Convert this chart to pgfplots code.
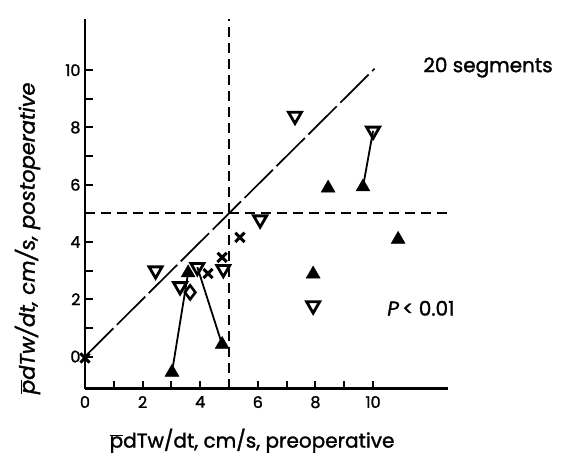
\documentclass[border=0pt]{standalone}
\usepackage{pgfplots}
\pgfplotsset{compat=1.18}
\usepackage{fontspec}
\setmainfont{Poppins}[FakeBold=1.5]
\newcommand{\pb}{\ensuremath{\overline{\mbox{p}}}}
\newcommand{\pbi}{\ensuremath{\overline{\mbox{\itshape p}}}}
\begin{document}
\begin{tikzpicture}
\begin{axis}[
  scale only axis, width=363pt, height=370pt,
  xmin=0, xmax=12.6, ymin=-1.12, ymax=11.8,
  axis lines=left, axis line style={line width=2.5pt, -},
  clip=false,
  xtick={0,2,...,10}, minor xtick={1,3,...,9},
  ytick={0,2,...,10}, minor ytick={1,3,...,9},
  tick style={line width=2pt, black},
  major tick length=8pt, minor tick length=8pt,
  tick align=inside,
  /pgf/number format/assume math mode=true,
  tick label style={font=\fontsize{16}{16}\selectfont},
  xticklabel style={yshift=-4pt},
  yticklabel style={xshift=-1pt},
]
% reference lines
\addplot[black, line width=1.7pt, dash pattern=on 40pt off 5pt] coordinates {(0,0) (10.05,10.05)};
\addplot[black, line width=2.2pt, dash pattern=on 10pt off 6pt] coordinates {(5,-1.12) (5,11.8)};
\addplot[black, line width=2.2pt, dash pattern=on 10pt off 6pt] coordinates {(0,5) (12.6,5)};
% connecting lines
\addplot[black, line width=1.8pt] coordinates {(3.02,-0.55) (3.58,2.92)};
\addplot[black, line width=1.8pt] coordinates {(3.9,3.12) (4.76,0.42)};
\addplot[black, line width=1.8pt] coordinates {(9.65,5.92) (10.0,7.88)};
% filled up-triangles
\addplot[only marks, mark=triangle*, mark size=8pt, mark options={fill=black, draw=black, line width=0.5pt}] coordinates {
(3.02,-0.55) (3.58,2.92) (4.76,0.42) (8.44,5.88) (9.65,5.92) (10.87,4.09) (7.92,2.88)
};
% open down-triangles
\addplot[only marks, mark=triangle, mark size=7.5pt, mark options={rotate=180, draw=black, fill=white, line width=2.8pt}] coordinates {
(2.45,3.0) (3.3,2.45) (3.9,3.12) (4.8,3.05) (6.08,4.78) (7.29,8.4) (10.0,7.88) (7.92,1.78)
};
% crosses
\addplot[only marks, mark=x, mark size=6.5pt, mark options={draw=black, line width=3pt}] coordinates {
(0,-0.05) (4.27,2.9) (4.76,3.46) (5.38,4.16)
};
% diamond
\addplot[only marks, mark=diamond, mark size=7pt, mark options={draw=black, fill=white, line width=2.6pt}] coordinates {
(3.65,2.24)
};
% texts
\node[anchor=base west, inner sep=0pt, font=\fontsize{20}{20}\selectfont] at (axis cs:11.74,9.93) {20 segments};
\node[anchor=base west, inner sep=0pt, font=\fontsize{20}{20}\selectfont] at (axis cs:10.49,1.43) {\textit{P}\,< 0.01};
\node[anchor=base, inner sep=0pt, font=\fontsize{20}{20}\selectfont] at (axis cs:5.8,-3.18) {\pb dTw/dt, cm/s, preoperative};
\node[anchor=south, rotate=90, inner sep=0pt, font=\fontsize{21}{21}\selectfont\itshape] at (axis cs:-1.55,4.13) {\pbi dTw/dt, cm/s, postoperative};
\coordinate (bbsw) at (axis cs:-2.95,-3.50);
\coordinate (bbne) at (axis cs:16.94,12.45);
\end{axis}
\pgfresetboundingbox
\path (bbsw) rectangle (bbne);
\end{tikzpicture}
\end{document}
